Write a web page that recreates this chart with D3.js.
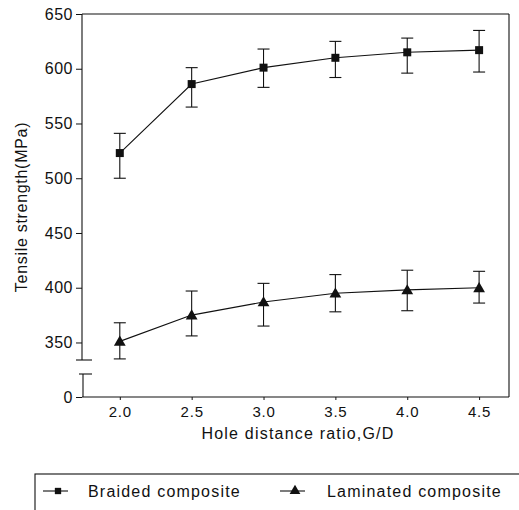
<!DOCTYPE html>
<html><head><meta charset="utf-8">
<script src="https://cdn.jsdelivr.net/npm/d3@7"></script>
<style>body{margin:0;background:#fff}svg{display:block}text{font-family:"Liberation Sans",Arial,sans-serif;fill:#111}</style>
</head><body>
<svg id="c" width="519" height="510"></svg>
<script>
const ratios = [2.0, 2.5, 3.0, 3.5, 4.0, 4.5];
const braided = [523, 586, 601, 610, 615, 617];
const braidedHi = [541, 601, 618, 625, 628, 635];
const braidedLo = [500, 565, 583, 592, 596, 597];
const laminated = [351, 375, 387, 395, 398, 400];
const laminatedHi = [368, 397, 404, 412, 416, 415];
const laminatedLo = [335, 356, 365, 378, 379, 386];
const xTicks = [2.0, 2.5, 3.0, 3.5, 4.0, 4.5];
const yTicksUpper = [350, 400, 450, 500, 550, 600, 650];
const yTicksLower = [0];
const breakLo = 21, breakHi = 334;

const svg = d3.select("#c");
const L = 82, R = 509;
const x = d3.scaleLinear().domain([1.737, 4.708]).range([L, R]);
const y = d3.scaleLinear().domain([0, breakLo, breakHi, 650]).range([397, 374, 360, 14]);

const ink = "#111";
const g = svg.append("g").attr("stroke", ink).attr("fill", "none").attr("stroke-width", 1.1);
// frame top, right, bottom
g.append("line").attr("x1", L).attr("x2", R).attr("y1", y(650)).attr("y2", y(650));
g.append("line").attr("x1", R).attr("x2", R).attr("y1", y(650)).attr("y2", y(0));
g.append("line").attr("x1", L).attr("x2", R).attr("y1", y(0)).attr("y2", y(0));
// left axis with break
g.append("line").attr("x1", L).attr("x2", L).attr("y1", y(650)).attr("y2", y(breakHi));
g.append("line").attr("x1", L - 6).attr("x2", L + 10).attr("y1", y(breakHi)).attr("y2", y(breakHi));
g.append("line").attr("x1", L + 1).attr("x2", L + 1).attr("y1", y(breakLo)).attr("y2", y(0));
g.append("line").attr("x1", L - 3).attr("x2", L + 10).attr("y1", y(breakLo)).attr("y2", y(breakLo));

// y axes
const yAx = svg.append("g").attr("transform", `translate(${L},0)`)
  .call(d3.axisLeft(y).tickValues(yTicksUpper.concat(yTicksLower)).tickSize(6).tickPadding(3).tickFormat(d3.format("d")));
yAx.select(".domain").remove();
yAx.selectAll("line").attr("stroke", ink);
yAx.selectAll("text").style("font-size", "16px").style("letter-spacing", "0.5px").attr("fill", ink);

// x axis
const xAx = svg.append("g").attr("transform", `translate(0,${y(0)})`)
  .call(d3.axisBottom(x).tickValues(xTicks).tickSize(3).tickPadding(6).tickFormat(d3.format(".1f")));
xAx.select(".domain").remove();
xAx.selectAll("line").attr("stroke", ink);
xAx.selectAll("text").style("font-size", "15px").style("letter-spacing", "0.8px").attr("fill", ink);

// titles
svg.append("text").attr("x", 298).attr("y", 439).attr("text-anchor", "middle")
  .style("font-size", "16px").style("letter-spacing", "1.2px").text("Hole distance ratio,G/D");
svg.append("text").attr("transform", `translate(27,207) rotate(-90)`).attr("text-anchor", "middle")
  .style("font-size", "16px").style("letter-spacing", "0.7px").text("Tensile strength(MPa)");

function series(vals, hi, lo, shape) {
  const line = d3.line().x((d, i) => x(ratios[i])).y(d => y(d));
  svg.append("path").datum(vals).attr("d", line).attr("fill", "none").attr("stroke", ink).attr("stroke-width", 1.1);
  const eg = svg.append("g").attr("stroke", ink).attr("stroke-width", 1.1);
  ratios.forEach((r, i) => {
    const cx = x(r);
    eg.append("line").attr("x1", cx).attr("x2", cx).attr("y1", y(hi[i])).attr("y2", y(lo[i]));
    eg.append("line").attr("x1", cx - 6).attr("x2", cx + 6).attr("y1", y(hi[i])).attr("y2", y(hi[i]));
    eg.append("line").attr("x1", cx - 6).attr("x2", cx + 6).attr("y1", y(lo[i])).attr("y2", y(lo[i]));
  });
  const sym = d3.symbol().type(shape === "square" ? d3.symbolSquare : d3.symbolTriangle).size(shape === "square" ? 64 : 60);
  svg.append("g").selectAll("path").data(vals).join("path")
    .attr("transform", (d, i) => `translate(${x(ratios[i])},${y(d) + (shape === "square" ? 0 : 1)})`)
    .attr("d", sym).attr("fill", ink);
}
series(braided, braidedHi, braidedLo, "square");
series(laminated, laminatedHi, laminatedLo, "triangle");

// legend
svg.append("rect").attr("x", 35).attr("y", 474).attr("width", 520).attr("height", 80)
  .attr("fill", "none").attr("stroke", ink).attr("stroke-width", 1.1);
const legend = [
  {name: "Braided composite", shape: d3.symbolSquare, size: 40, x0: 43, tx: 88},
  {name: "Laminated composite", shape: d3.symbolTriangle, size: 50, x0: 280, tx: 327}
];
legend.forEach(l => {
  const ly = 491;
  svg.append("line").attr("x1", l.x0).attr("x2", l.x0 + 25).attr("y1", ly).attr("y2", ly).attr("stroke", ink).attr("stroke-width", 1.1);
  svg.append("path").attr("d", d3.symbol().type(l.shape).size(l.size)).attr("transform", `translate(${l.x0 + 15},${ly})`).attr("fill", ink);
  svg.append("text").attr("x", l.tx).attr("y", ly + 6).style("font-size", "16px").style("letter-spacing", "1.2px").text(l.name);
});
</script>
</body></html>
